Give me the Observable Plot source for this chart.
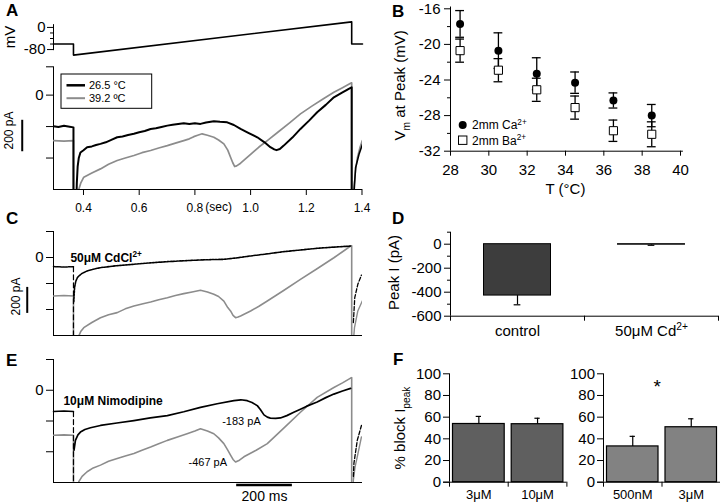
<!DOCTYPE html>
<html><head><meta charset="utf-8">
<script src="https://cdn.jsdelivr.net/npm/d3@7"></script>
<script src="https://cdn.jsdelivr.net/npm/@observablehq/plot@0.6"></script>
<style>
body{margin:0;background:#fff}
#fig{position:relative;width:720px;height:503px;overflow:hidden;background:#fff;font-family:"Liberation Sans",Arial,sans-serif}
</style></head>
<body><div id="fig"></div>
<script>
// ---------------- DATA ----------------
const T0 = 0.2923, T1 = 1.4018;               // time window of the traces (s)
const timeTicks = [0.4, 0.6, 0.8, 1.0, 1.2, 1.4];
// A: voltage ramp protocol
const rampT  = [0.2923, 0.364, 0.364, 1.363, 1.363, 1.4018];
const rampMV = [-60, -60, -100, 20, -60, -60];
// A: currents (t in s, I in pA)
const a26 = [[0.2923,-198],[0.31,-203],[0.33,-195],[0.35,-201],[0.364,-205],[0.364,-700],
 [0.374,-700],[0.376,-560],[0.379,-455],[0.383,-400],[0.389,-365],[0.40,-350],[0.413,-331],[0.43,-326],[0.445,-317],
 [0.461,-310],[0.48,-300],[0.50,-284],[0.521,-268],[0.54,-263],[0.56,-254],[0.581,-246],[0.60,-236],[0.62,-228],
 [0.641,-215],[0.66,-211],[0.68,-203],[0.701,-194],[0.72,-189],[0.74,-184],[0.760,-179],[0.78,-184],[0.80,-179],
 [0.820,-183],[0.84,-174],[0.868,-166],[0.89,-170],[0.916,-173],[0.94,-190],[0.964,-215],[0.99,-238],[1.024,-268],
 [1.05,-300],[1.071,-331],[1.085,-345],[1.093,-350],[1.105,-343],[1.119,-321],[1.15,-270],[1.179,-215],[1.21,-162],
 [1.239,-109],[1.27,-62],[1.299,-14],[1.33,17],[1.359,46],[1.363,50],[1.363,-700]];
const a26Tail = [[1.368,-700],[1.372,-600],[1.377,-462],[1.389,-378],[1.401,-315]];
const a39 = [[0.2923,-289],[0.33,-292],[0.364,-289],[0.364,-700],[0.379,-700],[0.383,-600],[0.39,-560],[0.401,-522],
 [0.43,-495],[0.461,-469],[0.49,-440],[0.521,-416],[0.55,-400],[0.581,-384],[0.61,-366],[0.641,-352],[0.67,-336],
 [0.701,-321],[0.73,-305],[0.760,-289],[0.78,-278],[0.796,-264],[0.81,-255],[0.826,-246],[0.845,-255],[0.868,-268],
 [0.885,-285],[0.904,-310],[0.918,-350],[0.928,-395],[0.936,-430],[0.943,-454],[0.95,-450],[0.964,-433],[1.0,-376],
 [1.03,-330],[1.060,-289],[1.10,-233],[1.14,-176],[1.179,-119],[1.22,-70],[1.26,-25],[1.299,18],[1.33,47],[1.359,75],
 [1.363,78],[1.363,-700]];
const a39Tail = [[1.366,-700],[1.371,-590],[1.377,-480],[1.383,-400],[1.392,-335],[1.401,-289]];
const aLegend = ["26.5 °C", "39.2 ºC"];
// C: 50 µM CdCl2
const cCdPre  = [[0.2923,-70],[0.33,-73],[0.364,-71]];
const cCdDrop = [[0.364,-71],[0.364,-700]];
const cCd = [[0.365,-340],[0.368,-230],[0.372,-185],[0.378,-155],[0.383,-142],[0.395,-122],[0.413,-104],[0.435,-90],
 [0.461,-78],[0.52,-63],[0.581,-52],[0.64,-41],[0.701,-32],[0.76,-25],[0.820,-19],[0.86,-16],[0.904,-14],[0.95,-3],
 [1.000,12],[1.06,28],[1.119,45],[1.18,58],[1.239,71],[1.30,80],[1.359,88]];
const cCdTail = [[1.369,-500],[1.374,-309],[1.385,-206],[1.398,-135]];
const cCtrl = [[0.2923,-296],[0.33,-292],[0.364,-296],[0.364,-700],[0.379,-700],[0.383,-604],[0.39,-570],[0.401,-540],
 [0.43,-500],[0.461,-463],[0.49,-440],[0.521,-424],[0.55,-395],[0.581,-373],[0.61,-358],[0.641,-342],[0.67,-325],
 [0.701,-309],[0.73,-292],[0.760,-278],[0.79,-265],[0.820,-252],[0.845,-265],[0.868,-283],[0.885,-300],[0.904,-335],
 [0.918,-385],[0.928,-411],[0.937,-445],[0.946,-463],[0.955,-458],[0.964,-450],[1.0,-412],[1.03,-375],[1.060,-335],
 [1.12,-252],[1.179,-168],[1.24,-85],[1.299,-2],[1.33,44],[1.359,88],[1.363,90],[1.363,-700]];
const cCtrlTail = [[1.367,-700],[1.369,-642],[1.373,-540],[1.385,-411],[1.401,-335]];
// E: 10 µM nimodipine
const eNimoPre  = [[0.2923,-139],[0.33,-135],[0.364,-139]];
const eNimoDrop = [[0.364,-139],[0.364,-700]];
const eNimo = [[0.366,-390],[0.371,-326],[0.38,-290],[0.389,-272],[0.405,-255],[0.425,-244],[0.461,-229],[0.52,-213],
 [0.581,-197],[0.64,-180],[0.701,-165],[0.76,-140],[0.820,-111],[0.88,-88],[0.940,-68],[0.965,-62],[0.988,-68],
 [1.005,-80],[1.024,-100],[1.035,-125],[1.048,-160],[1.060,-175],[1.071,-181],[1.09,-183],[1.107,-180],[1.13,-165],
 [1.155,-143],[1.179,-123],[1.20,-105],[1.239,-76],[1.27,-48],[1.299,-25],[1.33,-5],[1.359,12]];
const eNimoTail = [[1.369,-560],[1.371,-476],[1.383,-326],[1.398,-229]];
const eCtrl = [[0.2923,-293],[0.33,-290],[0.364,-293],[0.364,-700],[0.379,-700],[0.383,-595],[0.395,-560],[0.413,-530],
 [0.435,-505],[0.461,-487],[0.49,-462],[0.521,-444],[0.55,-428],[0.581,-412],[0.61,-390],[0.641,-369],[0.67,-348],
 [0.701,-326],[0.74,-303],[0.772,-283],[0.80,-265],[0.820,-250],[0.845,-265],[0.868,-283],[0.885,-310],[0.904,-347],
 [0.918,-390],[0.928,-422],[0.937,-450],[0.946,-467],[0.96,-455],[0.976,-433],[1.02,-390],[1.060,-347],[1.12,-245],
 [1.179,-143],[1.239,-46],[1.299,18],[1.33,48],[1.359,79],[1.363,82],[1.363,-700]];
const eCtrlTail = [[1.367,-700],[1.369,-584],[1.375,-500],[1.383,-433],[1.398,-304]];
// B: Vm at peak vs temperature
const bTemp  = [28.5, 30.5, 32.5, 34.5, 36.5, 38.5];
const bCa    = [-17.7, -20.7, -23.3, -24.3, -26.3, -28.0];
const bCaErr = [1.5, 2.0, 1.8, 1.2, 0.85, 1.25];
const bBa    = [-20.7, -22.9, -25.1, -27.1, -29.7, -30.1];
const bBaErr = [1.3, 1.3, 1.3, 1.3, 1.2, 1.4];
const bLegend = ["2mm Ca^{2+}", "2mm Ba^{2+}"];
// D: peak current
const dCats = ["control", "50μM Cd^{2+}"];
const dPeak = [-428, -4];
const dErr  = [77, 5];
// F: % block
const f1Cats = ["3μM", "10μM"];
const f1Block = [53.7, 53.5];
const f1Err = [7, 5.5];
const f2Cats = ["500nM", "3μM"];
const f2Block = [33, 50.7];
const f2Err = [9.3, 7.8];

// ---------------- HELPERS ----------------
const FONT = '"Liberation Sans", Arial, Helvetica, sans-serif';
const GRAY = "#8c8c8c";
const fig = document.getElementById("fig");
const NS = "http://www.w3.org/2000/svg";

function rich(svg){
  d3.select(svg).selectAll("text").each(function(){
    const s = this.textContent;
    if(!/[\^_]\{/.test(s)) return;
    const fs = parseFloat(getComputedStyle(this).fontSize) || 12;
    const parts = []; const re = /([\^_])\{([^}]*)\}/g; let last = 0, m;
    while((m = re.exec(s))){ if(m.index > last) parts.push({t:s.slice(last, m.index)}); parts.push({t:m[2], k:m[1]}); last = re.lastIndex; }
    if(last < s.length) parts.push({t:s.slice(last)});
    while(this.firstChild) this.removeChild(this.firstChild);
    let shift = 0;
    for(const p of parts){
      const ts = document.createElementNS(NS, "tspan");
      ts.textContent = p.t;
      const target = p.k === "^" ? -0.4*fs : p.k === "_" ? 0.28*fs : 0;
      ts.setAttribute("dy", (target - shift).toFixed(2));
      shift = target;
      if(p.k) ts.setAttribute("font-size", (0.68*fs).toFixed(1));
      this.appendChild(ts);
    }
  });
}
function mk(opts, left, top){
  const svg = Plot.plot({style:{fontFamily:FONT, background:"transparent", overflow:"visible", color:"black"}, ...opts});
  svg.style.position = "absolute"; svg.style.left = left + "px"; svg.style.top = top + "px";
  svg.style.maxWidth = "none";
  fig.appendChild(svg); rich(svg); return svg;
}
const X = d => d[0], Y = d => d[1];
const zeroOnly = d => d === 0 ? "0" : "";
const ylab = (txt, y, dx) => Plot.text([txt], {frameAnchor:"left", y, dx, rotate:-90, fontSize:15, textAnchor:"middle", lineAnchor:"middle"});

// ---------------- A: voltage ----------------
mk({
  width:370, height:60, marginLeft:53, marginRight:8, marginTop:20, marginBottom:4,
  x:{domain:[T0,T1], axis:null}, y:{domain:[-105,25]},
  marks:[
    Plot.ruleX([T0], {y1:-84, y2:10, stroke:"black"}),
    Plot.axisY([0,-80], {tickSize:6, tickPadding:2, fontSize:15, tickFormat:d=>String(d), label:null}),
    Plot.axisY([-20,-40,-60], {tickSize:3, tickFormat:()=>"", label:null}),
    Plot.line(rampT.map((t,i)=>[t, rampMV[i]]), {x:X, y:Y, stroke:"black", strokeWidth:1.6}),
    ylab("mV", -35, -43)
  ]
}, 0, 0);

// ---------------- A: currents ----------------
mk({
  width:370, height:155, marginLeft:53, marginRight:8, marginTop:6.3, marginBottom:26,
  x:{domain:[T0,T1]}, y:{domain:[-600,180]},
  marks:[
    Plot.ruleX([T0], {y1:-600, y2:180}),
    Plot.ruleY([-600], {x1:T0, x2:T1}),
    Plot.axisY([180,0,-200,-400], {tickSize:7, tickPadding:3, fontSize:15, tickFormat:zeroOnly, label:null}),
    Plot.axisX(timeTicks, {tickSize:6, tickPadding:8, fontSize:12, tickFormat:d=>d.toFixed(1), label:null}),
    Plot.text(["(sec)"], {x:0.885, frameAnchor:"bottom", lineAnchor:"middle", dy:18, fontSize:12}),
    Plot.line(a39, {x:X, y:Y, stroke:GRAY, strokeWidth:1.7, clip:true}),
    Plot.line(a39Tail, {x:X, y:Y, stroke:GRAY, strokeWidth:1.5, clip:true}),
    Plot.line(a26, {x:X, y:Y, stroke:"black", strokeWidth:2, clip:true}),
    Plot.line(a26Tail, {x:X, y:Y, stroke:"black", strokeWidth:1.6, clip:true}),
    Plot.ruleX([0.180], {y1:-160, y2:-360, strokeWidth:2}),
    Plot.text(["200 pA"], {x:0.134, y:-225, rotate:-90, fontSize:12})
  ]
}, 0, 60);

// ---------------- C: Cd ----------------
mk({
  width:370, height:130, marginLeft:53, marginRight:8, marginTop:11, marginBottom:15,
  x:{domain:[T0,T1], axis:null}, y:{domain:[-600,200]},
  marks:[
    Plot.ruleX([T0], {y1:-600, y2:200}),
    Plot.ruleY([-600], {x1:T0, x2:T1}),
    Plot.axisY([200,0,-200,-400], {tickSize:7, tickPadding:3, fontSize:15, tickFormat:zeroOnly, label:null}),
    Plot.line(cCtrl, {x:X, y:Y, stroke:GRAY, strokeWidth:1.6, clip:true}),
    Plot.line(cCtrlTail, {x:X, y:Y, stroke:GRAY, strokeWidth:1.4, clip:true}),
    Plot.line(cCdPre, {x:X, y:Y, stroke:"black", strokeWidth:1.5, strokeDasharray:"2,1"}),
    Plot.line(cCdDrop, {x:X, y:Y, stroke:"black", strokeWidth:1.2, strokeDasharray:"5,3", clip:true}),
    Plot.line(cCd, {x:X, y:Y, stroke:"black", strokeWidth:1.6, strokeDasharray:"2,1", clip:true}),
    Plot.line(cCdTail, {x:X, y:Y, stroke:"black", strokeWidth:1.3, strokeDasharray:"4,2", clip:true}),
    Plot.ruleX([0.198], {y1:-230, y2:-430, strokeWidth:2}),
    Plot.text(["200 pA"], {x:0.159, y:-300, rotate:-90, fontSize:12}),
    Plot.text(["50μM CdCl^{2+}"], {x:0.353, y:-2, textAnchor:"start", fontSize:12, fontWeight:"bold"})
  ]
}, 0, 220);

// ---------------- E: Nimodipine ----------------
mk({
  width:370, height:153, marginLeft:53, marginRight:8, marginTop:9, marginBottom:21,
  x:{domain:[T0,T1], axis:null}, y:{domain:[-600,200]},
  marks:[
    Plot.ruleX([T0], {y1:-600, y2:200}),
    Plot.ruleY([-600], {x1:T0, x2:T1}),
    Plot.axisY([200,0,-200,-400], {tickSize:7, tickPadding:3, fontSize:15, tickFormat:zeroOnly, label:null}),
    Plot.line(eCtrl, {x:X, y:Y, stroke:GRAY, strokeWidth:1.6, clip:true}),
    Plot.line(eCtrlTail, {x:X, y:Y, stroke:GRAY, strokeWidth:1.4, clip:true}),
    Plot.line(eNimoPre, {x:X, y:Y, stroke:"black", strokeWidth:1.5}),
    Plot.line(eNimoDrop, {x:X, y:Y, stroke:"black", strokeWidth:1.2, strokeDasharray:"5,3", clip:true}),
    Plot.line(eNimo, {x:X, y:Y, stroke:"black", strokeWidth:1.7, clip:true}),
    Plot.line(eNimoTail, {x:X, y:Y, stroke:"black", strokeWidth:1.3, strokeDasharray:"4,2", clip:true}),
    Plot.text(["10μM Nimodipine"], {x:0.328, y:-68, textAnchor:"start", fontSize:12, fontWeight:"bold"}),
    Plot.text(["-183 pA"], {x:0.898, y:-205, textAnchor:"start", fontSize:11}),
    Plot.text(["-467 pA"], {x:0.777, y:-472, textAnchor:"start", fontSize:11}),
    Plot.ruleY([-617], {x1:0.95, x2:1.15, strokeWidth:2.5}),
    Plot.text(["200 ms"], {x:1.05, y:-690, fontSize:14})
  ]
}, 0, 350);

// ---------------- B: Vm at peak ----------------
const capB = 0.23;
mk({
  width:350, height:200, marginLeft:80, marginRight:40, marginTop:8.3, marginBottom:49.3,
  x:{domain:[28,40]}, y:{domain:[-32,-16]},
  marks:[
    Plot.ruleX([28], {y1:-32, y2:-15.8}),
    Plot.ruleY([-32], {x1:28, x2:40.15}),
    Plot.axisY([-16,-20,-24,-28,-32], {tickSize:6, tickPadding:4, fontSize:15, tickFormat:d=>String(d), label:null}),
    Plot.axisY([-18,-22,-26,-30], {tickSize:3, tickFormat:()=>"", label:null}),
    Plot.axisX([28,30,32,34,36,38,40], {tickSize:5, tickPadding:8, fontSize:15, tickFormat:d=>String(d), label:null}),
    Plot.text(["T (°C)"], {x:34, frameAnchor:"bottom", lineAnchor:"middle", dy:38, fontSize:15}),
    ylab("V_{m} at Peak (mV)", -24.6, -50),
    // error bars
    Plot.ruleX(bTemp, {x:d=>d, y1:(d,i)=>bCa[i]-bCaErr[i], y2:(d,i)=>bCa[i]+bCaErr[i], strokeWidth:1.3}),
    Plot.ruleY(bTemp, {y:(d,i)=>bCa[i]+bCaErr[i], x1:d=>d-capB, x2:d=>d+capB, strokeWidth:1.3}),
    Plot.ruleY(bTemp, {y:(d,i)=>bCa[i]-bCaErr[i], x1:d=>d-capB, x2:d=>d+capB, strokeWidth:1.3}),
    Plot.ruleX(bTemp, {x:d=>d, y1:(d,i)=>bBa[i]-bBaErr[i], y2:(d,i)=>bBa[i]+bBaErr[i], strokeWidth:1.3}),
    Plot.ruleY(bTemp, {y:(d,i)=>bBa[i]+bBaErr[i], x1:d=>d-capB, x2:d=>d+capB, strokeWidth:1.3}),
    Plot.ruleY(bTemp, {y:(d,i)=>bBa[i]-bBaErr[i], x1:d=>d-capB, x2:d=>d+capB, strokeWidth:1.3}),
    Plot.dot(bTemp, {x:d=>d, y:(d,i)=>bBa[i], symbol:"square", r:4.6, fill:"white", stroke:"black", strokeWidth:1}),
    Plot.dot(bTemp, {x:d=>d, y:(d,i)=>bCa[i], r:4, fill:"black", stroke:"none"})
  ]
}, 370, 0);

// ---------------- D: Peak I ----------------
mk({
  width:350, height:150, marginLeft:80, marginRight:2, marginTop:31.7, marginBottom:34.3,
  x:{domain:[0,2]}, y:{domain:[-600,100]},
  marks:[
    Plot.rect(dCats, {x1:(d,i)=>i, x2:(d,i)=>i+1, y1:0, y2:(d,i)=>dPeak[i], insetLeft:33.5, insetRight:33.5, fill:"#3d3d3d", stroke:"black", strokeWidth:1}),
    Plot.ruleX(dCats, {x:(d,i)=>i+0.5, y1:(d,i)=>dPeak[i], y2:(d,i)=>dPeak[i]-dErr[i], strokeWidth:1.2}),
    Plot.ruleY(dCats, {y:(d,i)=>dPeak[i]-dErr[i], x1:(d,i)=>i+0.475, x2:(d,i)=>i+0.525, strokeWidth:1.2}),
    Plot.ruleX([0], {y1:-600, y2:100}),
    Plot.ruleY([-600], {x1:0, x2:2}),
    Plot.axisY([0,-200,-400,-600], {tickSize:6, tickPadding:3, fontSize:15, tickFormat:d=>String(d), label:null}),
    Plot.axisY([100,-100,-300,-500], {tickSize:3, tickFormat:()=>"", label:null}),
    Plot.axisX([0,1,2], {tickSize:5, tickFormat:()=>"", label:null}),
    Plot.axisX([0.5,1.5], {tickSize:0, tickPadding:9, fontSize:15, tickFormat:d=>dCats[Math.floor(d)], label:null}),
    ylab("Peak I (pA)", -236, -56)
  ]
}, 370, 200);

// ---------------- F: % block ----------------
function fPanel(cats, vals, errs, fill, left, width, mLeft, extra){
  return mk({
    width, height:163, marginLeft:mLeft, marginRight:width===200?3.6:0, marginTop:33.3, marginBottom:21.3,
    x:{domain:[0,2]}, y:{domain:[0,100]},
    marks:[
      Plot.rect(cats, {x1:(d,i)=>i, x2:(d,i)=>i+1, y1:0, y2:(d,i)=>vals[i], insetLeft:3.5, insetRight:3.5, fill, stroke:"black", strokeWidth:1.2}),
      Plot.ruleX(cats, {x:(d,i)=>i+0.5, y1:(d,i)=>vals[i], y2:(d,i)=>vals[i]+errs[i], strokeWidth:1.2}),
      Plot.ruleY(cats, {y:(d,i)=>vals[i]+errs[i], x1:(d,i)=>i+0.455, x2:(d,i)=>i+0.545, strokeWidth:1.2}),
      Plot.ruleX([0], {y1:0, y2:100}),
      Plot.ruleY([0], {x1:-0.1, x2:2}),
      Plot.axisY([0,20,40,60,80,100], {tickSize:6, tickPadding:2.5, fontSize:15, tickFormat:d=>String(d), label:null}),
      Plot.axisX([0,1,2], {tickSize:5, tickFormat:()=>"", label:null}),
      Plot.axisX([0.5,1.5], {tickSize:0, tickPadding:7.5, fontSize:13, tickFormat:d=>cats[Math.floor(d)], label:null}),
      ...extra
    ]
  }, left, 340);
}
fPanel(f1Cats, f1Block, f1Err, "#5f5f5f", 370, 200, 79, [ylab("% block I_{peak}", 50, -49)]);
fPanel(f2Cats, f2Block, f2Err, "#828282", 555, 165, 48, [Plot.text(["*"], {x:0.92, y:88, fontSize:19})]);

// ---------------- overlay: panel letters & legends ----------------
const ov = d3.select(fig).append("svg").attr("width",720).attr("height",503)
  .style("position","absolute").style("left","0px").style("top","0px").style("pointer-events","none")
  .style("font-family", FONT);
[["A",6,15.5],["B",392,17],["C",6,224],["D",392,224],["E",6,366],["F",393,365]].forEach(([t,x,y])=>
  ov.append("text").attr("x",x).attr("y",y).attr("font-size",17).attr("font-weight","bold").text(t));
// legend A
ov.append("rect").attr("x",61).attr("y",74).attr("width",90.7).attr("height",34.3).attr("fill","white").attr("stroke","black").attr("stroke-width",1);
[["black",85.3,2.5],[GRAY,98.2,2]].forEach(([c,y,w],i)=>{
  ov.append("line").attr("x1",66.5).attr("x2",85).attr("y1",y).attr("y2",y).attr("stroke",c).attr("stroke-width",w);
  ov.append("text").attr("x",89).attr("y",y+3.8).attr("font-size",11).text(aLegend[i]);
});
// legend B
ov.append("circle").attr("cx",462.7).attr("cy",125).attr("r",4).attr("fill","black");
ov.append("rect").attr("x",458.5).attr("y",136).attr("width",8.4).attr("height",8.4).attr("fill","white").attr("stroke","black");
ov.append("text").attr("x",472).attr("y",129.3).attr("font-size",12).text(bLegend[0]);
ov.append("text").attr("x",472).attr("y",144.5).attr("font-size",12).text(bLegend[1]);
rich(ov.node());
</script>
</body></html>
